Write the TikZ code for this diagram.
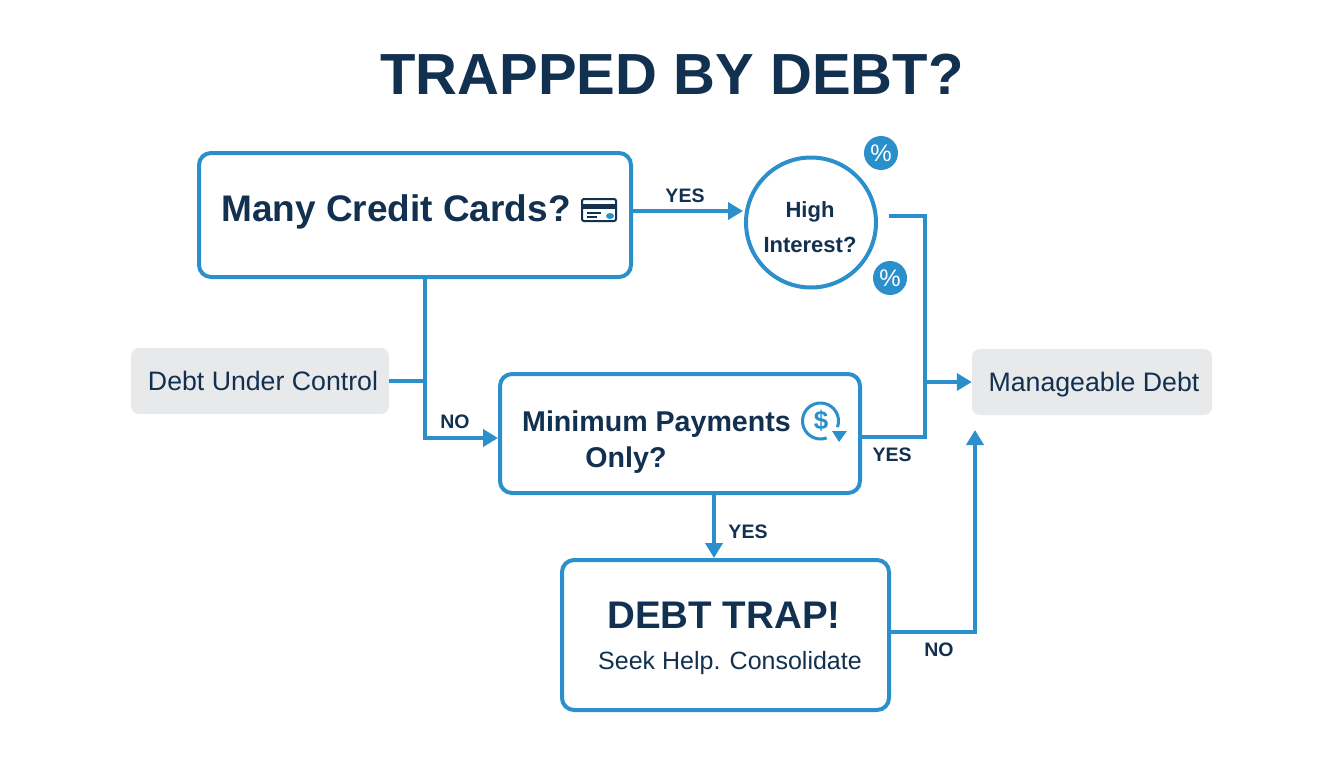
\documentclass[tikz,border=0pt]{standalone}
\usepackage{fontspec}
\setmainfont{Liberation Sans}
\usetikzlibrary{arrows.meta}
\definecolor{flowblue}{HTML}{2A8FCB}
\definecolor{inkblue}{HTML}{12304F}
\definecolor{endgray}{HTML}{E8E9EB}
\tikzset{
	askbox/.style={draw=flowblue, line width=4pt, rounded corners=12pt, fill=white, inner sep=0pt},
	endbox/.style={fill=endgray, rounded corners=8pt, inner sep=0pt},
	askcircle/.style={draw=flowblue, line width=4pt, circle, fill=white, inner sep=0pt, minimum size=130pt},
	badge/.style={circle, fill=flowblue, text=white, inner sep=0pt, minimum size=34pt, font=\fontsize{24}{24}\selectfont},
	flow/.style={draw=flowblue, line width=4pt},
	flowarrow/.style={flow, -{Triangle[length=15pt,width=17pt]}},
	answer/.style={text=inkblue, inner sep=0pt, font=\fontsize{19.5}{20}\selectfont\bfseries},
	asktext/.style={text=inkblue, inner sep=0pt, font=\fontsize{28.6}{30}\selectfont\bfseries},
}
\begin{document}
\begin{tikzpicture}[x=1pt,y=-1pt]
	\useasboundingbox (0,0) rectangle (1344,768);
	
	%Title
	\node[text=inkblue, inner sep=0pt, font=\fontsize{58}{58}\selectfont\bfseries] (title) at (672,74) {TRAPPED BY DEBT?};
	
	%Question boxes
	\node[askbox, minimum width=432pt, minimum height=124pt] (cards) at (415,215) {};
	\node[askcircle] (high) at (811,222.5) {};
	\node[askbox, minimum width=360pt, minimum height=119pt] (minimum) at (680,433.5) {};
	\node[askbox, minimum width=327pt, minimum height=150pt] (trap) at (725.5,635) {};
	\node[endbox, minimum width=258pt, minimum height=66pt] (under) at (260,381) {};
	\node[endbox, minimum width=240pt, minimum height=66pt] (manage) at (1092,382) {};
	
	%Texts
	\node[asktext, font=\fontsize{37}{37}\selectfont\bfseries] (cardstext) at (396,212) {Many Credit Cards?};
	\node[asktext, font=\fontsize{22}{35}\selectfont\bfseries, align=center] (hightext) at (810,227) {High\\Interest?};
	\node[asktext] (mintext) at (656.5,424) {Minimum Payments};
	\node[asktext] (onlytext) at (626,460) {Only?};
	\node[asktext, font=\fontsize{38.5}{39}\selectfont\bfseries] (traptext) at (724,615) {DEBT TRAP!};
	\node[text=inkblue, inner sep=0pt, font=\fontsize{25}{25}\selectfont] (seektext) at (730,663) {Seek Help. Consolidate};
	\node[text=inkblue, inner sep=0pt, font=\fontsize{26.7}{27}\selectfont] (undertext) at (263,381) {Debt Under Control};
	\node[text=inkblue, inner sep=0pt, font=\fontsize{26.7}{27}\selectfont] (managetext) at (1094,385) {Manageable Debt};
	
	%Percent badges
	\node[badge] (perone) at (881,153) {\%};
	\node[badge] (pertwo) at (890,278) {\%};
	
	%Card icon
	\draw[inkblue, line width=2pt, rounded corners=2pt] (582,199) rectangle (616,221);
	\fill[inkblue] (582,204) rectangle (616,209);
	\draw[inkblue, line width=2pt] (587,213) -- (601,213) (587,217) -- (597,217);
	\fill[flowblue] (610,216) ellipse (4pt and 3pt);
	
	%Dollar icon
	\coordinate (dollarmid) at (820.5,421);
	\draw[flowblue, line width=3pt] (dollarmid) ++(-70:18pt) arc (-70:-380:18pt);
	\node[text=flowblue, inner sep=0pt, font=\fontsize{26}{26}\selectfont\bfseries] (dollar) at (821,421) {\$};
	\fill[flowblue] (832,431) -- (847,431) -- (839,442) -- cycle;
	
	%Connectors
	\coordinate (highout) at (889,216);
	\coordinate (joinright) at (925,382);
	\coordinate (joinleft) at (425,381);
	\draw[flowarrow] ([yshift=4pt]cards.east) -- (743,211);
	\draw[flow] (cards.south -| joinleft) -- (joinleft);
	\draw[flowarrow] (joinleft) -- (425,438) -- (minimum.west |- 0,438);
	\draw[flow] (under.east) -- (joinleft);
	\draw[flow] (highout) -- (925,216) -- (925,437) -- (minimum.east |- 0,437);
	\draw[flowarrow] (joinright) -- (manage.west);
	\draw[flowarrow] (minimum.south -| 714,0) -- (trap.north -| 714,0);
	\draw[flowarrow] (trap.east |- 0,632) -- (975,632) -- (975,430);
	
	%Answers
	\node[answer] (yesone) at (685,196) {YES};
	\node[answer] (noone) at (455,422) {NO};
	\node[answer] (yestwo) at (892,455) {YES};
	\node[answer] (yesthree) at (748,532) {YES};
	\node[answer] (notwo) at (939,650) {NO};
\end{tikzpicture}
\end{document}
